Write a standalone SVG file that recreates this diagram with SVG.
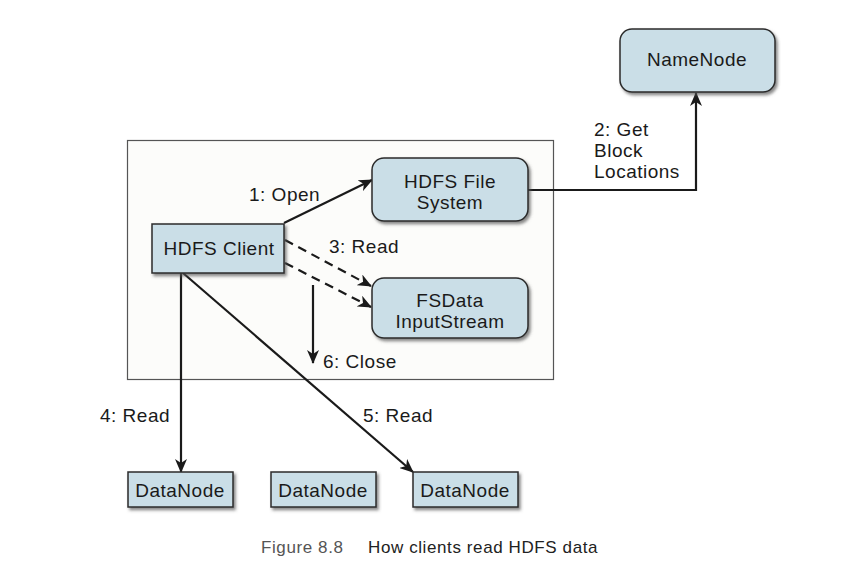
<svg xmlns="http://www.w3.org/2000/svg" width="844" height="582" viewBox="0 0 844 582">
<style>
.node{fill:#cadee7;stroke:#2b2b2b;stroke-width:1.5;filter:url(#sh)}
.t{font-family:"Liberation Sans",Arial,sans-serif;font-size:19px;letter-spacing:0.5px;fill:#1a1a1a}
.c{text-anchor:middle}
.ln{fill:none;stroke:#1a1a1a;stroke-width:2.2}
.dash{stroke-dasharray:9 6}
.cap{font-family:"Liberation Sans",Arial,sans-serif;font-size:17px;letter-spacing:0.6px}
</style>
<defs>
<filter id="sh" x="-10%" y="-10%" width="130%" height="140%">
<feDropShadow dx="2" dy="2.5" stdDeviation="1.5" flood-color="#555" flood-opacity="0.7"/>
</filter>
<marker id="ah" viewBox="0 0 14 12" refX="13" refY="6" markerWidth="14" markerHeight="12" markerUnits="userSpaceOnUse" orient="auto">
<path d="M0,0 L14,6 L0,12 L4,6 z" fill="#1a1a1a"/>
</marker>
</defs>
<rect x="0" y="0" width="844" height="582" fill="#ffffff"/>
<g id="frame"><rect x="127.5" y="140.5" width="426" height="239" fill="#fcfcfa" stroke="#555" stroke-width="1.2"/></g>

<g id="connectors">
<line class="ln" x1="284" y1="223" x2="372" y2="180" marker-end="url(#ah)"/>
<polyline class="ln" points="528,190 696,190 696,93" marker-end="url(#ah)"/>
<line class="ln dash" x1="285" y1="240" x2="371" y2="286" marker-end="url(#ah)"/>
<line class="ln dash" x1="285" y1="263" x2="371" y2="307" marker-end="url(#ah)"/>
<line class="ln" x1="313" y1="285" x2="313" y2="363" marker-end="url(#ah)"/>
<line class="ln" x1="181" y1="273" x2="181" y2="472" marker-end="url(#ah)"/>
<line class="ln" x1="183" y1="273" x2="413" y2="472" marker-end="url(#ah)"/>
<text class="t" x="249" y="201">1: Open</text>
<text class="t" x="594" y="136">2: Get</text>
<text class="t" x="594" y="157">Block</text>
<text class="t" x="594" y="178">Locations</text>
<text class="t" x="329" y="253">3: Read</text>
<text class="t" x="100" y="422">4: Read</text>
<text class="t" x="363" y="422">5: Read</text>
<text class="t" x="323" y="368">6: Close</text>
</g>

<g id="namenode"><rect class="node" x="620" y="29" width="155" height="63" rx="12"/><text class="t c" x="697" y="66">NameNode</text></g>
<g id="hdfsfs"><rect class="node" x="372" y="158" width="156" height="63" rx="12"/><text class="t c" x="450" y="188">HDFS File</text><text class="t c" x="450" y="209">System</text></g>
<g id="client"><rect class="node" x="152" y="224" width="132" height="49"/><text class="t c" x="219" y="255">HDFS Client</text></g>
<g id="fsdata"><rect class="node" x="372" y="278" width="156" height="60" rx="12"/><text class="t c" x="450" y="307">FSData</text><text class="t c" x="450" y="328">InputStream</text></g>
<g id="dn1"><rect class="node" x="128" y="472" width="105" height="35"/><text class="t c" x="180" y="497">DataNode</text></g>
<g id="dn2"><rect class="node" x="271" y="472" width="105" height="35"/><text class="t c" x="323" y="497">DataNode</text></g>
<g id="dn3"><rect class="node" x="413" y="472" width="105" height="35"/><text class="t c" x="465" y="497">DataNode</text></g>

<g id="caption"><text class="cap" x="261" y="553" fill="#555">Figure 8.8</text><text class="cap" x="368" y="553" fill="#222">How clients read HDFS data</text></g>
</svg>
